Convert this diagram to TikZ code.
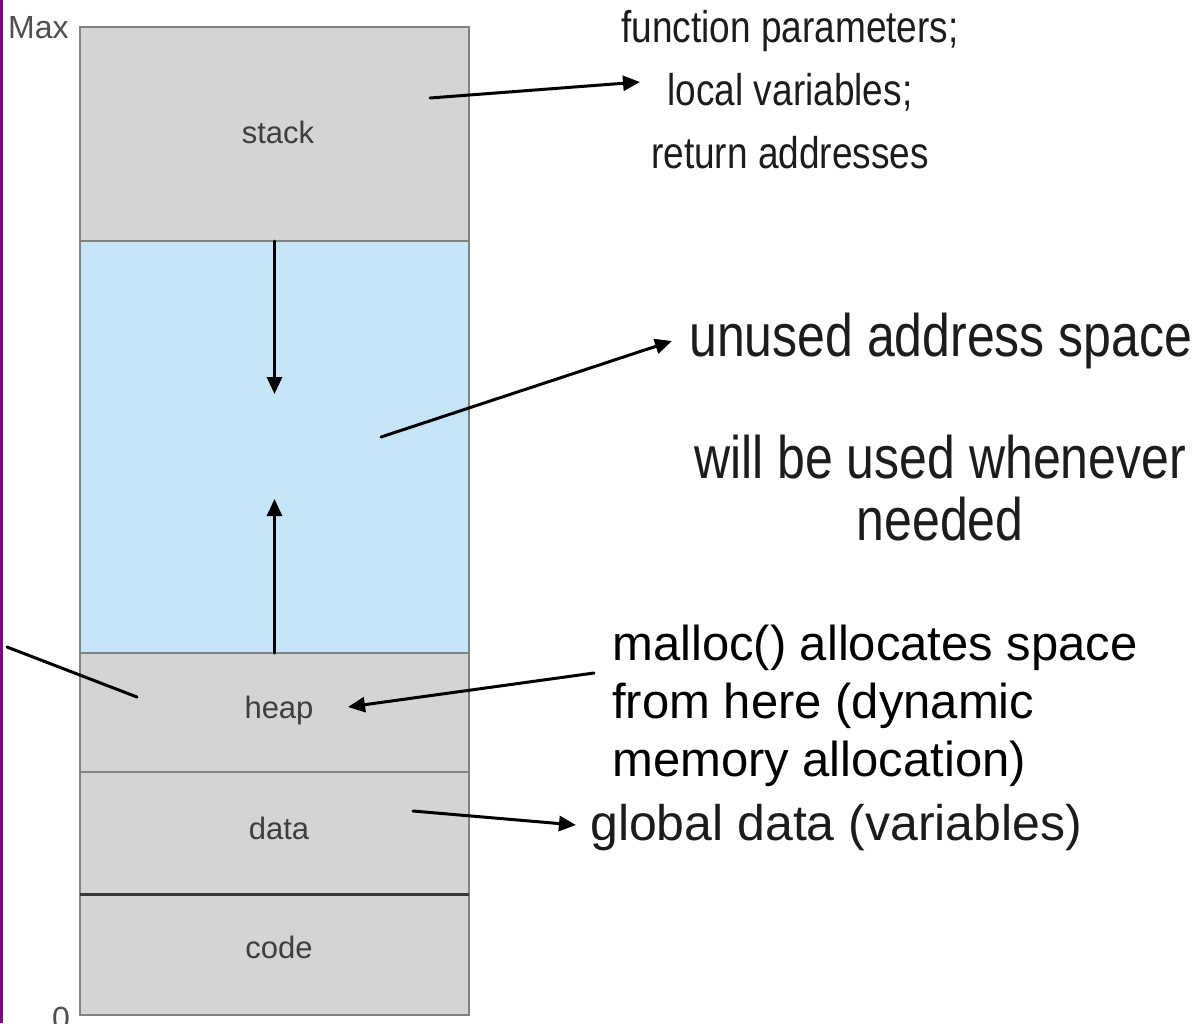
\documentclass[tikz,border=0pt]{standalone}
\usepackage{fontspec}
\setmainfont{Liberation Sans}
\usetikzlibrary{arrows.meta}

\definecolor{segGray}{RGB}{211,212,214}
\definecolor{freeBlue}{RGB}{198,230,248}
\definecolor{edgeGray}{RGB}{128,130,132}
\definecolor{darkRule}{RGB}{55,55,58}
\definecolor{frameViolet}{RGB}{120,10,125}
\definecolor{labelGray}{RGB}{62,62,64}
\definecolor{axisGray}{RGB}{80,80,82}
\definecolor{noteInk}{RGB}{28,28,28}

% slightly tall lettering for the scanned-style captions
\newcommand{\tallcap}[1]{\scalebox{1}[1.2]{#1}}

\begin{document}
\begin{tikzpicture}[x=1pt,y=-1pt,
  segment/.style={draw=edgeGray, line width=2pt, fill=segGray, inner sep=0pt,
    outer sep=0pt, minimum width=389pt, anchor=north west},
  ptr/.style={line width=3pt, line cap=round, draw=black,
    -{Triangle[length=17pt,width=15pt]}},
  seglabel/.style={font=\fontsize{31}{31}\selectfont, text=labelGray,
    anchor=base, inner sep=0pt},
  axislabel/.style={font=\fontsize{32}{32}\selectfont, text=axisGray,
    anchor=base west, inner sep=0pt},
  smallcap/.style={font=\fontsize{37}{37}\selectfont, text=noteInk,
    anchor=base, inner sep=0pt},
  bigcap/.style={font=\fontsize{50}{50}\selectfont, text=noteInk,
    inner sep=0pt},
  note/.style={font=\fontsize{49}{49}\selectfont, text=black,
    anchor=base west, inner sep=0pt}]

\useasboundingbox (0,0) rectangle (1204,1023);
\fill[white] (0,0) rectangle (1204,1023);
\clip (0,0) rectangle (1204,1023);

% memory segments, top (Max) to bottom (0)
\node[segment, minimum height=214pt] (stack) at (80,27) {};
\node[segment, fill=freeBlue, minimum height=412pt] (free) at (80,241) {};
\node[segment, minimum height=119pt] (heap) at (80,653) {};
\node[segment, minimum height=122pt] (data) at (80,772) {};
\node[segment, minimum height=121pt] (code) at (80,894) {};
\draw[darkRule, line width=3pt] (code.north west) -- (code.north east);

% segment names
\node[seglabel] (lstack) at (278,143) {stack};
\node[seglabel] (lheap) at (279,718) {heap};
\node[seglabel] (ldata) at (279,839) {data};
\node[seglabel] (lcode) at (279,958) {code};

% address bounds
\node[axislabel] (maxlbl) at (8,38) {Max};
\node[axislabel] (zerolbl) at (52,1029) {0};

% growth directions of stack and heap
\coordinate (stackgrow) at (274.5,394);
\coordinate (heapgrow) at (274.5,499);
\draw[ptr] (stack.south) -- (stackgrow);
\draw[ptr] (heap.north) -- (heapgrow);

% captions on the right
\node[smallcap] (cap1) at (790,42) {\tallcap{function parameters;}};
\node[smallcap] (cap2) at (790,105) {\tallcap{local variables;}};
\node[smallcap] (cap3) at (790,168) {\tallcap{return addresses}};

\node[bigcap, anchor=base west] (freecap) at (689,356) {\tallcap{unused address space}};
\node[bigcap, anchor=base west] (usecap1) at (694,478) {\tallcap{will be used whenever}};
\node[bigcap, anchor=base] (usecap2) at (usecap1.base |- 0,540) {\tallcap{needed}};

\node[note] (mal1) at (612,660) {malloc() allocates space};
\node[note] (mal2) at (612,718) {from here (dynamic};
\node[note] (mal3) at (612,776) {memory allocation)};

\node[bigcap, anchor=base west] (globcap) at (590,840) {global data (variables)};

% pointers from segments to their captions
\coordinate (stackin) at (430,98);
\coordinate (stacktip) at (640,82);
\draw[ptr] (stackin) -- (stacktip);

\coordinate (freein) at (381,437);
\coordinate (freetip) at (672,341);
\draw[ptr] (freein) -- (freetip);

\coordinate (maltail) at (594,673);
\coordinate (heaptip) at (348,707);
\draw[ptr] (maltail) -- (heaptip);

\coordinate (datain) at (413,811);
\coordinate (datatip) at (576,825);
\draw[ptr] (datain) -- (datatip);

% leader entering the heap from the left edge
\coordinate (leftend) at (7,647);
\coordinate (heapin) at (137,697);
\draw[line width=3pt, line cap=round] (leftend) -- (heapin);

% violet frame edge
\draw[frameViolet, line width=3pt] (1.5,0) -- (1.5,1023);
\end{tikzpicture}
\end{document}
